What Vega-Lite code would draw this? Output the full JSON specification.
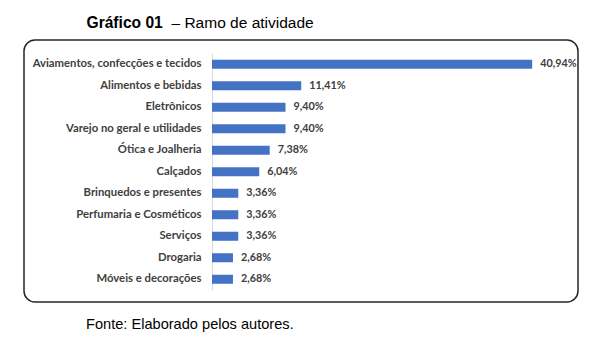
{
  "$schema": "https://vega.github.io/schema/vega-lite/v6.json",
  "width": 554,
  "height": 262,
  "autosize": {"type": "none"},
  "padding": {"left": 24, "top": 40, "right": 28, "bottom": 49},
  "background": "white",
  "config": {
    "view": {"stroke": "#262626", "strokeWidth": 1.5, "cornerRadius": 11},
    "locale": {
      "number": {"decimal": ",", "thousands": ".", "grouping": [3], "currency": ["", "%"]}
    }
  },
  "title": {
    "text": "Fonte: Elaborado pelos autores.",
    "orient": "bottom",
    "anchor": "start",
    "frame": "group",
    "dx": 62,
    "offset": 15,
    "baseline": "top",
    "font": "Liberation Sans",
    "fontSize": 14.6,
    "fontWeight": "normal",
    "color": "#000000"
  },
  "data": {
    "values": [
      {"categoria": "Aviamentos, confecções e tecidos", "valor": 40.94},
      {"categoria": "Alimentos e bebidas", "valor": 11.41},
      {"categoria": "Eletrônicos", "valor": 9.40},
      {"categoria": "Varejo no geral e utilidades", "valor": 9.40},
      {"categoria": "Ótica e Joalheria", "valor": 7.38},
      {"categoria": "Calçados ", "valor": 6.04},
      {"categoria": "Brinquedos e presentes", "valor": 3.36},
      {"categoria": "Perfumaria e Cosméticos", "valor": 3.36},
      {"categoria": "Serviços", "valor": 3.36},
      {"categoria": "Drogaria", "valor": 2.68},
      {"categoria": "Móveis e decorações", "valor": 2.68}
    ]
  },
  "encoding": {
    "y": {
      "field": "categoria",
      "type": "nominal",
      "sort": null,
      "scale": {"range": [13.5, 250], "paddingInner": 0.58, "paddingOuter": 0.29},
      "axis": {
        "orient": "left",
        "offset": -188,
        "domain": true,
        "domainColor": "#d9d9d9",
        "domainWidth": 1,
        "ticks": false,
        "grid": false,
        "labelPadding": 11,
        "labelFont": "Lato",
        "labelFontWeight": "bold",
        "labelFontSize": 11.3,
        "labelColor": "#404040",
        "labelLimit": 400,
        "title": "– Ramo de atividade",
        "titleAngle": 0,
        "titleX": -41,
        "titleY": -13,
        "titleAlign": "left",
        "titleBaseline": "alphabetic",
        "titleFont": "Liberation Sans",
        "titleFontSize": 15.5,
        "titleFontWeight": "normal",
        "titleColor": "#000000"
      }
    },
    "x": {
      "field": "valor",
      "type": "quantitative",
      "scale": {"domain": [-24.04, 46.8], "nice": false, "zero": true},
      "axis": {
        "orient": "top",
        "labels": false,
        "ticks": false,
        "domain": false,
        "grid": false,
        "title": "Gráfico 01",
        "titleX": 62,
        "titleY": -13,
        "titleAlign": "left",
        "titleBaseline": "alphabetic",
        "titleFont": "Liberation Sans",
        "titleFontSize": 15.6,
        "titleFontWeight": "bold",
        "titleColor": "#000000"
      }
    }
  },
  "layer": [
    {"mark": {"type": "bar", "color": "#4472c4"}},
    {
      "mark": {
        "type": "text",
        "align": "left",
        "baseline": "middle",
        "dx": 8,
        "font": "Lato",
        "fontWeight": "bold",
        "fontSize": 10.8,
        "color": "#404040"
      },
      "encoding": {"text": {"field": "valor", "type": "quantitative", "format": "$.2f"}}
    }
  ]
}
